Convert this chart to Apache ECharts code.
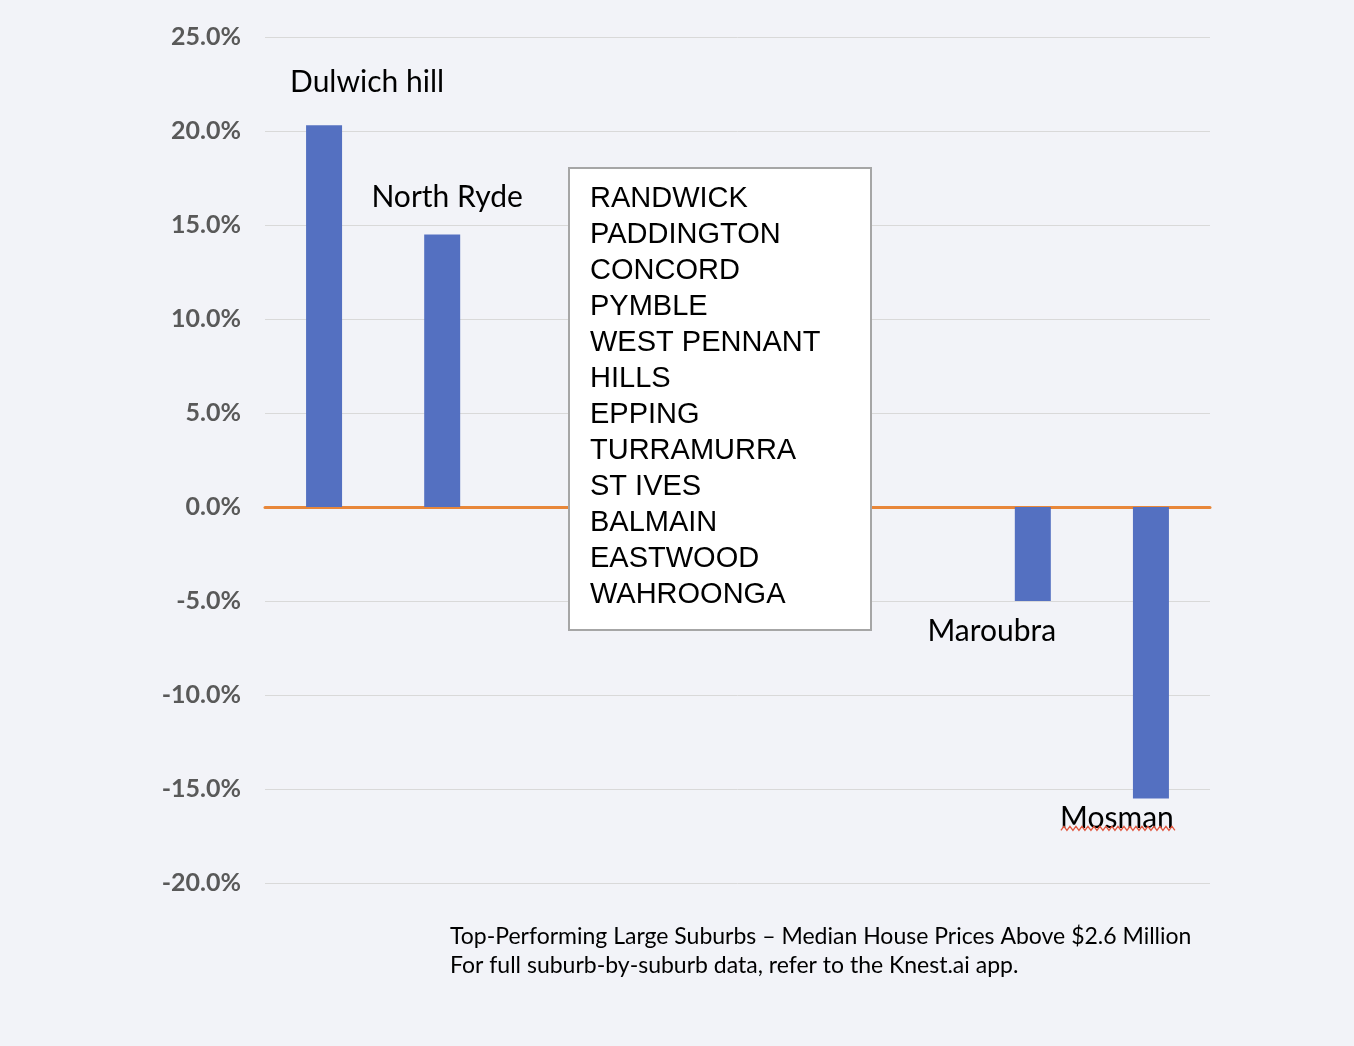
<!DOCTYPE html>
<html>
<head>
<meta charset="utf-8">
<script src="https://cdn.jsdelivr.net/npm/echarts@6/dist/echarts.min.js"></script>
<style>
html,body{margin:0;padding:0;background:#f2f3f8;}
#chart{width:1354px;height:1046px;}
</style>
</head>
<body>
<div id="chart"></div>
<script>
// ---- data ----
const categories = ['Dulwich hill', 'North Ryde', ' ', '  ', '   ', '    ', 'Maroubra', 'Mosman'];
const changePct = [20.3, 14.5, null, null, null, null, -5.0, -15.5];
const yTicks = { min: -20, max: 25, interval: 5 };
const boxSuburbs = ['RANDWICK', 'PADDINGTON', 'CONCORD', 'PYMBLE', 'WEST PENNANT', 'HILLS', 'EPPING', 'TURRAMURRA', 'ST IVES', 'BALMAIN', 'EASTWOOD', 'WAHROONGA'];
const captionLines = ['Top-Performing Large Suburbs \u2013 Median House Prices Above $2.6 Million', 'For full suburb-by-suburb data, refer to the Knest.ai app.'];

// ---- styling (label placement per bar) ----
const labelOffsets = [[43, -28], [5, -22], [0, 0], [0, 0], [0, 0], [0, 0], [-41, 15], [-34, 5]];

const chart = echarts.init(document.getElementById('chart'));
const seriesData = changePct.map((v, i) => ({
  value: v,
  label: {
    show: v !== null,
    position: v >= 0 ? 'top' : 'bottom',
    distance: 0,
    offset: labelOffsets[i]
  }
}));

chart.setOption({
  backgroundColor: '#f2f3f8',
  animation: false,
  grid: { left: 265, right: 144, top: 37, bottom: 163 },
  xAxis: {
    type: 'category',
    data: categories,
    axisLine: { show: true, onZero: true, lineStyle: { color: '#e8873a', width: 3 } },
    axisTick: { show: false },
    axisLabel: { show: false },
    splitLine: { show: false }
  },
  yAxis: {
    type: 'value',
    min: yTicks.min, max: yTicks.max, interval: yTicks.interval,
    axisLine: { show: false },
    axisTick: { show: false },
    axisLabel: {
      formatter: v => v.toFixed(1) + '%',
      color: '#595959', fontFamily: 'Lato', fontWeight: 'bold', fontSize: 25, margin: 24
    },
    splitLine: { lineStyle: { color: '#d9d9d9', width: 1 } }
  },
  series: [{
    type: 'bar',
    data: seriesData,
    barWidth: 36,
    itemStyle: { color: '#5470c1' },
    label: {
      formatter: p => categories[p.dataIndex],
      color: '#000', fontFamily: 'Lato', fontSize: 30, lineHeight: 30
    }
  }]
});

// spell-check style wavy underline under the last label (placed relative to its bar)
const lastIdx = categories.length - 1;
const p = chart.convertToPixel({ seriesIndex: 0 }, [lastIdx, changePct[lastIdx]]);
const wave = [];
const x0 = p[0] - 90, x1 = p[0] + 24, yb = p[1] + 30;
for (let x = x0, k = 0; x <= x1; x += 3, k++) wave.push([x, yb + (k % 2 ? -2 : 2)]);

chart.setOption({
  graphic: [
    {
      id: 'box', type: 'group', left: 568, top: 167, z: 100, children: [
        { type: 'rect', z: 100, shape: { x: 0, y: 0, width: 302, height: 462 },
          style: { fill: '#ffffff', stroke: '#a6a6a6', lineWidth: 2 } },
        { type: 'text', z: 101, x: 21, y: 13,
          style: { text: boxSuburbs.join('\n'), fill: '#000', font: '29px "Liberation Sans", Arial, sans-serif', lineHeight: 36 } }
      ]
    },
    {
      id: 'caption', type: 'text', left: 450, top: 922, z: 100,
      style: { text: captionLines.join('\n'), fill: '#000', font: '23px Lato, sans-serif', lineHeight: 29 }
    },
    {
      id: 'wave', type: 'polyline', z: 100, shape: { points: wave },
      style: { stroke: '#e0573f', lineWidth: 1.3, fill: null }
    }
  ]
});
</script>
</body>
</html>
